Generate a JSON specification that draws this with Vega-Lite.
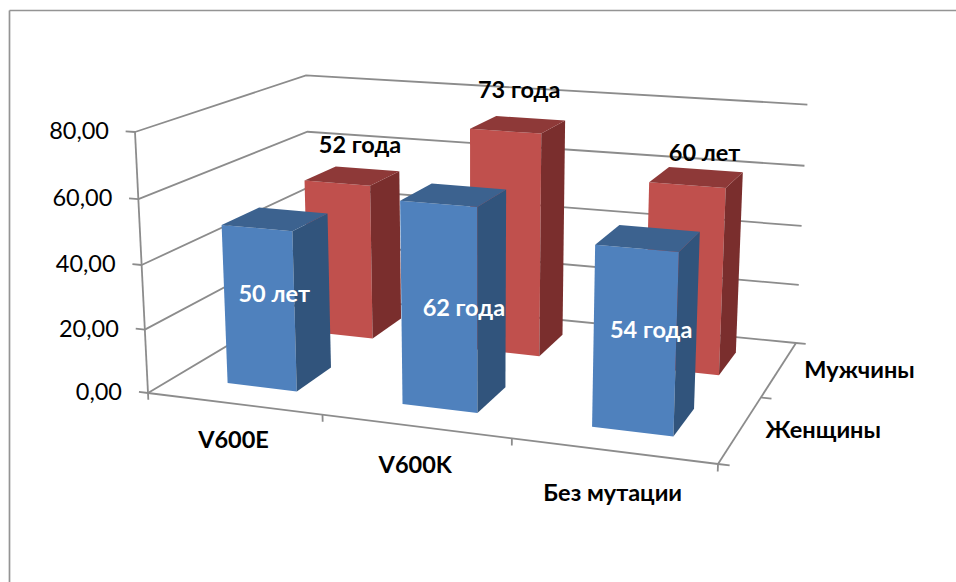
{
  "$schema": "https://vega.github.io/schema/vega-lite/v6.json",
  "width": 956,
  "height": 582,
  "padding": 0,
  "autosize": {"type": "none"},
  "background": "white",
  "config": {"view": {"stroke": null}, "text": {"font": "Lato"}},
  "datasets": {
    "bars": [
      {"mutation": "V600E", "sex": "Мужчины", "value": 52, "label": "52 года"},
      {"mutation": "V600K", "sex": "Мужчины", "value": 73, "label": "73 года"},
      {"mutation": "Без мутации", "sex": "Мужчины", "value": 60, "label": "60 лет"},
      {"mutation": "V600E", "sex": "Женщины", "value": 50, "label": "50 лет"},
      {"mutation": "V600K", "sex": "Женщины", "value": 62, "label": "62 года"},
      {"mutation": "Без мутации", "sex": "Женщины", "value": 54, "label": "54 года"}
    ],
    "guides": [
      {"axis": "grid", "pos": 0}, {"axis": "grid", "pos": 20}, {"axis": "grid", "pos": 40}, {"axis": "grid", "pos": 60}, {"axis": "grid", "pos": 80},
      {"axis": "value", "pos": 0}, {"axis": "value", "pos": 20}, {"axis": "value", "pos": 40}, {"axis": "value", "pos": 60}, {"axis": "value", "pos": 80},
      {"axis": "mutation", "pos": 0}, {"axis": "mutation", "pos": 1}, {"axis": "mutation", "pos": 2}, {"axis": "mutation", "pos": 3},
      {"axis": "sex", "pos": 0}, {"axis": "sex", "pos": 1}, {"axis": "sex", "pos": 2},
      {"axis": "spine", "pos": 0}, {"axis": "front", "pos": 0}, {"axis": "side", "pos": 0}
    ]
  },
  "layer": [
    {
      "description": "Chart-area border, top and left edges",
      "data": {"values": [{"edge": "top"}]},
      "mark": {"type": "rule", "color": "#949494", "strokeWidth": 1.7},
      "encoding": {
        "x": {"datum": 9.5, "type": "quantitative", "scale": {"domain": [0, 956], "range": [0, 956]}, "axis": null},
        "x2": {"datum": 956},
        "y": {"datum": 10.5, "type": "quantitative", "scale": {"domain": [0, 582], "range": [0, 582]}, "axis": null}
      }
    },
    {
      "data": {"values": [{"edge": "left"}]},
      "mark": {"type": "rule", "color": "#949494", "strokeWidth": 1.7},
      "encoding": {
        "x": {"datum": 9.5, "type": "quantitative", "scale": {"domain": [0, 956], "range": [0, 956]}, "axis": null},
        "y": {"datum": 10.5, "type": "quantitative", "scale": {"domain": [0, 582], "range": [0, 582]}, "axis": null},
        "y2": {"datum": 582}
      }
    },
    {
      "description": "Wall gridlines, axis spines and tick marks, projected from chart space",
      "data": {"name": "guides"},
      "transform": [
        {"calculate": "datum.axis==='grid'?[0,1,2]:[0,1]", "as": "k"},
        {"calculate": "datum.axis==='grid'?[0,0,1]:datum.axis==='value'?[0,-0.018]:datum.axis==='mutation'?[datum.pos/3,datum.pos/3]:datum.axis==='sex'?[1,1.018]:datum.axis==='front'?[0,1]:datum.axis==='side'?[1,1]:[0,0]", "as": "ss"},
        {"calculate": "datum.axis==='grid'?[0,1,1]:datum.axis==='sex'?[datum.pos/2,datum.pos/2]:datum.axis==='side'?[0,1]:[0,0]", "as": "tt"},
        {"calculate": "datum.axis==='grid'?[datum.pos/80,datum.pos/80,datum.pos/80]:datum.axis==='value'?[datum.pos/80,datum.pos/80]:datum.axis==='mutation'?[0,-0.027]:datum.axis==='spine'?[0,1]:[0,0]", "as": "vv"},
        {"flatten": ["k", "ss", "tt", "vv"], "as": ["k", "s", "t", "v"]},
        {"calculate": "-0.11751*datum.s+0.19539*datum.t-0.0376*datum.v+1", "as": "W"},
        {"calculate": "(485.63*datum.s+224.36*datum.t-18.08*datum.v+148)/datum.W", "as": "X"},
        {"calculate": "(16.48*datum.s-39.76*datum.t+(-265.96+5*datum.s)*datum.v+393)/datum.W", "as": "Y"},
        {"calculate": "datum.axis+'-'+datum.pos", "as": "key"}
      ],
      "mark": {"type": "line", "color": "#8c8c8c", "strokeWidth": 1.8},
      "encoding": {
        "x": {"field": "X", "type": "quantitative", "scale": {"domain": [0, 956], "range": [0, 956]}, "axis": null},
        "y": {"field": "Y", "type": "quantitative", "scale": {"domain": [0, 582], "range": [0, 582]}, "axis": null},
        "detail": {"field": "key"},
        "order": {"field": "k", "type": "quantitative"}
      }
    },
    {
      "description": "Value-axis labels",
      "data": {"name": "guides"},
      "transform": [
        {"filter": "datum.axis==='value'"},
        {"calculate": "replace(format(datum.pos,'.2f'),'.',',')", "as": "text"},
        {"calculate": "datum.pos/80", "as": "v"},
        {"calculate": "-0.0376*datum.v+1", "as": "W"},
        {"calculate": "(-18.08*datum.v+148)/datum.W", "as": "X"},
        {"calculate": "(-265.96*datum.v+393)/datum.W", "as": "Y"}
      ],
      "mark": {"type": "text", "align": "right", "baseline": "middle", "dx": -26, "fontSize": 23.5, "color": "#000000"},
      "encoding": {
        "x": {"field": "X", "type": "quantitative", "scale": {"domain": [0, 956], "range": [0, 956]}, "axis": null},
        "y": {"field": "Y", "type": "quantitative", "scale": {"domain": [0, 582], "range": [0, 582]}, "axis": null},
        "text": {"field": "text"}
      }
    },
    {
      "description": "Mutation names below the front edge of the floor",
      "data": {"name": "bars"},
      "transform": [
        {"filter": "datum.sex==='Женщины'"},
        {"calculate": "(indexof(['V600E','V600K','Без мутации'],datum.mutation)+0.5)/3", "as": "s"},
        {"calculate": "-0.11751*datum.s+1", "as": "W"},
        {"calculate": "(485.63*datum.s+148)/datum.W", "as": "X"},
        {"calculate": "(16.48*datum.s+393)/datum.W+(datum.s-0.5)*9", "as": "Y"}
      ],
      "mark": {"type": "text", "align": "center", "baseline": "middle", "dy": 40, "fontSize": 23.5, "fontWeight": "bold", "color": "#000000"},
      "encoding": {
        "x": {"field": "X", "type": "quantitative", "scale": {"domain": [0, 956], "range": [0, 956]}, "axis": null},
        "y": {"field": "Y", "type": "quantitative", "scale": {"domain": [0, 582], "range": [0, 582]}, "axis": null},
        "text": {"field": "mutation"}
      }
    },
    {
      "description": "Series names beside the depth edge of the floor",
      "data": {"name": "bars"},
      "transform": [
        {"filter": "datum.mutation==='V600E'"},
        {"calculate": "datum.sex==='Женщины'?0.25:0.75", "as": "t"},
        {"calculate": "-0.11751+0.19539*datum.t+1", "as": "W"},
        {"calculate": "(485.63+224.36*datum.t+148)/datum.W", "as": "X"},
        {"calculate": "(16.48-39.76*datum.t+393)/datum.W", "as": "Y"}
      ],
      "mark": {"type": "text", "align": "left", "baseline": "middle", "dx": 25, "dy": 2.5, "fontSize": 23.5, "fontWeight": "bold", "color": "#000000"},
      "encoding": {
        "x": {"field": "X", "type": "quantitative", "scale": {"domain": [0, 956], "range": [0, 956]}, "axis": null},
        "y": {"field": "Y", "type": "quantitative", "scale": {"domain": [0, 582], "range": [0, 582]}, "axis": null},
        "text": {"field": "sex"}
      }
    },
    {
      "description": "Bars: front, side and top faces as filled outlines, back row first",
      "data": {"name": "bars"},
      "transform": [
        {"calculate": "[0,1,2]", "as": "face"},
        {"flatten": ["face"]},
        {"calculate": "[0,1,2,3]", "as": "corner"},
        {"flatten": ["corner"]},
        {"calculate": "(indexof(['V600E','V600K','Без мутации'],datum.mutation)+0.5)/3+0.006", "as": "sc"},
        {"calculate": "datum.sex==='Женщины'?0.25:0.75", "as": "tc"},
        {"calculate": "datum.sc+0.0675*[[-1,1,1,-1],[1,1,1,1],[-1,1,1,-1]][datum.face][datum.corner]", "as": "s"},
        {"calculate": "datum.tc+0.107*[[-1,-1,-1,-1],[-1,1,1,-1],[-1,-1,1,1]][datum.face][datum.corner]", "as": "t"},
        {"calculate": "datum.value/80*[[0,0,1,1],[0,0,1,1],[1,1,1,1]][datum.face][datum.corner]", "as": "v"},
        {"calculate": "-0.11751*datum.s+0.19539*datum.t-0.0376*datum.v+1", "as": "W"},
        {"calculate": "(485.63*datum.s+224.36*datum.t-18.08*datum.v+148)/datum.W", "as": "X"},
        {"calculate": "(16.48*datum.s-39.76*datum.t+(-265.96+5*datum.s)*datum.v+393)/datum.W", "as": "Y"},
        {"calculate": "datum.sex+'|'+['front','side','top'][datum.face]", "as": "shade"},
        {"calculate": "datum.mutation+'|'+datum.shade", "as": "key"}
      ],
      "mark": {"type": "line", "filled": true, "strokeWidth": 0},
      "encoding": {
        "x": {"field": "X", "type": "quantitative", "scale": {"domain": [0, 956], "range": [0, 956]}, "axis": null},
        "y": {"field": "Y", "type": "quantitative", "scale": {"domain": [0, 582], "range": [0, 582]}, "axis": null},
        "detail": {"field": "key"},
        "order": {"field": "corner", "type": "quantitative"},
        "fill": {
          "field": "shade",
          "type": "nominal",
          "legend": null,
          "scale": {
            "domain": ["Женщины|front", "Женщины|side", "Женщины|top", "Мужчины|front", "Мужчины|side", "Мужчины|top"],
            "range": ["#4f81bd", "#31547c", "#3c628f", "#c0504d", "#7a2e2d", "#8e3938"]
          }
        }
      }
    },
    {
      "description": "Data labels stating each bar's value, placed relative to the bar's top centre",
      "data": {"name": "bars"},
      "transform": [
        {"calculate": "indexof(['V600E','V600K','Без мутации'],datum.mutation)", "as": "col"},
        {"calculate": "(datum.col+0.5)/3+0.006", "as": "s"},
        {"calculate": "datum.sex==='Женщины'?0.25:0.75", "as": "t"},
        {"calculate": "datum.value/80", "as": "v"},
        {"calculate": "-0.11751*datum.s+0.19539*datum.t-0.0376*datum.v+1", "as": "W"},
        {"calculate": "(485.63*datum.s+224.36*datum.t-18.08*datum.v+148)/datum.W+(datum.sex==='Женщины'?[-1,10,3]:[7.5,1,8])[datum.col]", "as": "X"},
        {"calculate": "(16.48*datum.s-39.76*datum.t+(-265.96+5*datum.s)*datum.v+393)/datum.W+(datum.sex==='Женщины'?[76,114,93]:[-30,-33.5,-23])[datum.col]", "as": "Y"}
      ],
      "mark": {"type": "text", "align": "center", "baseline": "middle", "fontSize": 23.5, "fontWeight": "bold"},
      "encoding": {
        "x": {"field": "X", "type": "quantitative", "scale": {"domain": [0, 956], "range": [0, 956]}, "axis": null},
        "y": {"field": "Y", "type": "quantitative", "scale": {"domain": [0, 582], "range": [0, 582]}, "axis": null},
        "text": {"field": "label"},
        "color": {
          "field": "sex",
          "type": "nominal",
          "legend": null,
          "scale": {"domain": ["Женщины", "Мужчины"], "range": ["#ffffff", "#000000"]}
        }
      }
    }
  ]
}
